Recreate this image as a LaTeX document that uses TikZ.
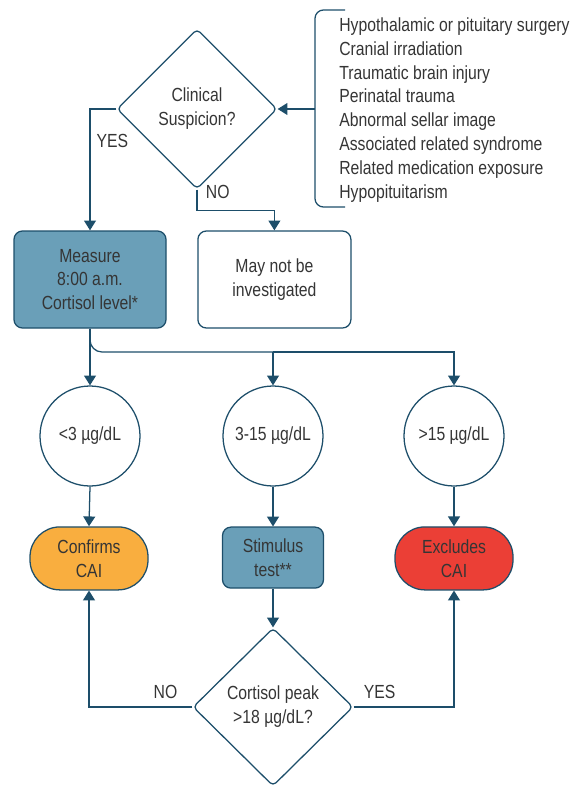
\documentclass[tikz,border=0pt]{standalone}
\usepackage{fontspec}
\setmainfont{Liberation Sans}[FakeStretch=0.83]
\usetikzlibrary{shapes.geometric,arrows.meta,calc}

\definecolor{flowline}{HTML}{1D4E6A}
\definecolor{boxblue}{HTML}{6A9FB8}
\definecolor{confirmorange}{HTML}{F9AE3F}
\definecolor{excludered}{HTML}{EB3F36}
\definecolor{txtgray}{HTML}{353535}

\begin{document}
\begin{tikzpicture}[
    every node/.style={font=\fontsize{13.5pt}{17pt}\selectfont, text=txtgray},
    decision/.style={
      diamond, draw=flowline, line width=0.9pt, rounded corners=3pt,
      minimum width=4.0cm, minimum height=4.0cm, inner sep=0pt, align=center
    },
    stepbox/.style={
      rectangle, draw=flowline, line width=0.9pt, rounded corners=6pt,
      minimum width=3.8cm, minimum height=2.425cm, align=center
    },
    level/.style={
      circle, draw=flowline, line width=0.9pt, minimum size=2.5cm, inner sep=0pt
    },
    outcome/.style={
      rectangle, draw=flowline, line width=0.9pt, rounded corners=0.75cm,
      minimum width=2.95cm, minimum height=1.575cm, align=center
    },
    line/.style={draw=flowline, line width=0.9pt},
    arr/.style={line, -{Triangle[length=7pt, width=8.5pt]}},
    answer/.style={font=\fontsize{13.5pt}{17pt}\selectfont},
]
\useasboundingbox (0,0) rectangle (14.3,-19.625);

% ===== CLINICAL SUSPICION =====
\node[decision] (clin) at (4.925,-2.725) {Clinical\\Suspicion?};
\node[anchor=west, align=left, inner sep=0pt] (risk) at (8.475,-2.75)
  {Hypothalamic or pituitary surgery\\
   Cranial irradiation\\
   Traumatic brain injury\\
   Perinatal trauma\\
   Abnormal sellar image\\
   Associated related syndrome\\
   Related medication exposure\\
   Hypopituitarism};

% bracket round the risk list
\coordinate (bktop) at (8.625,-0.25);
\coordinate (bkbot) at (8.625,-5.175);
\coordinate (bkmid) at (7.875,-2.725);
\draw[line, rounded corners=6pt] (bktop) -- (7.875,-0.25) -- (7.875,-5.175) -- (bkbot);
\draw[arr] (bkmid) -- (clin.east);

% ===== FIRST STEP =====
\node[stepbox, fill=boxblue] (measure) at (2.25,-6.9875) {Measure\\8:00 a.m.\\Cortisol level*};
\node[stepbox, fill=white, minimum width=3.825cm] (maynot) at (6.86,-6.9875) {May not be\\investigated};

\draw[arr] (clin.west) -| (measure.north)
  node[pos=0.63, right=1pt, answer] {YES};
\draw[arr] (clin.south) -- ++(0,-0.525) coordinate (nobend) -| (maynot.north);
\node[answer, anchor=west] at ($(clin.south)+(0.1,-0.06)$) {NO};

% ===== CORTISOL LEVELS =====
\node[level] (low)  at (2.25,-10.9)   {<3 µg/dL};
\node[level] (mid)  at (6.825,-10.9)  {3-15 µg/dL};
\node[level] (high) at (11.35,-10.9)  {>15 µg/dL};

\coordinate (split) at (6.825,-8.8);
\draw[arr] (measure.south) -- (low.north);
\draw[line, rounded corners=0.3cm] (measure.south) |- (split);
\draw[arr] (split) -- (mid.north);
\draw[arr] (split) -| (high.north);

% ===== OUTCOMES =====
\node[outcome, fill=confirmorange] (confirms) at (2.225,-13.96) {Confirms\\CAI};
\node[stepbox, fill=boxblue, minimum width=2.525cm, minimum height=1.525cm] (stim) at (6.825,-13.94) {Stimulus\\test**};
\node[outcome, fill=excludered] (excludes) at (11.35,-13.96) {Excludes\\CAI};

\draw[arr] (low.south) -- (confirms.north);
\draw[arr] (mid.south) -- (stim.north);
\draw[arr] (high.south) -- (excludes.north);

% ===== STIMULUS TEST RESULT =====
\node[decision, minimum height=3.95cm] (peak) at (6.825,-17.675) {Cortisol peak\\>18 µg/dL?};
\draw[arr] (stim.south) -- (peak.north);

\draw[arr] (peak.west) -| (confirms.south)
  node[pos=0.13, above=2pt, answer] {NO};
\draw[arr] (peak.east) -| (excludes.south)
  node[pos=0.13, above=2pt, answer] {YES};

\end{tikzpicture}
\end{document}
